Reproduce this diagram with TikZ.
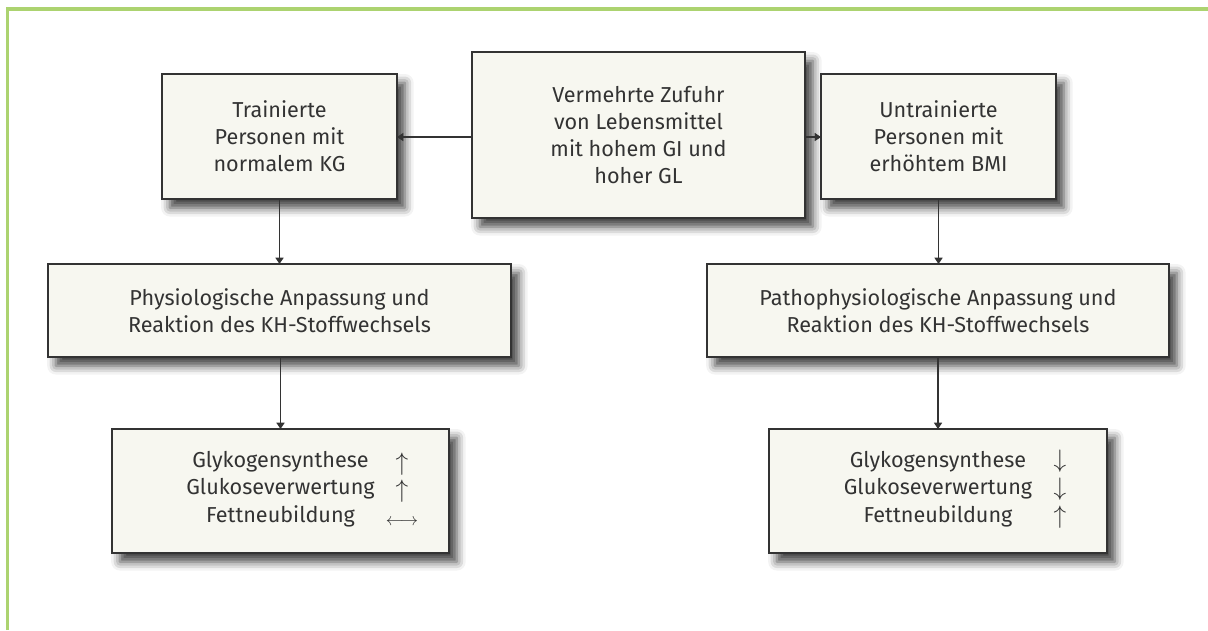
\documentclass[tikz,border=0pt]{standalone}
\usepackage{fontspec}
\setmainfont{Fira Sans}
\usetikzlibrary{arrows.meta,shadows.blur}
\definecolor{rahmen}{RGB}{172,211,112}
\definecolor{creme}{RGB}{247,247,240}
\definecolor{tinte}{RGB}{51,51,51}
\begin{document}
\begin{tikzpicture}[x=0.02cm, y=-0.02cm,
    kasten/.style={draw=tinte, line width=0.9pt, fill=creme,
        text=tinte, align=center, inner sep=0pt, outer sep=0pt,
        font=\fontsize{12.3}{15.4}\selectfont,
        blur shadow={shadow xshift=4.5pt, shadow yshift=-5pt,
            shadow blur radius=5pt, shadow opacity=75}},
    zeilen/.style={text=tinte, align=center, inner sep=0pt,
        font=\fontsize{12.3}{15.8}\selectfont},
    tendenz/.style={zeilen, font=\fontsize{15.5}{15.8}\selectfont},
    pfeil/.style={draw=tinte, line width=0.7pt,
        -{Triangle[width=4.6pt,length=3.6pt]}}
    ]
    \useasboundingbox (0,0) rectangle (1208,630);
    \draw[rahmen, line width=2pt] (7.3,630) -- (7.3,9) -- (1208,9);

    \node[kasten, minimum width=4.7cm, minimum height=2.5cm] (train) at (279.5,136.5)
        {Trainierte\\ Personen mit\\ normalem KG};
    \node[kasten, minimum width=6.66cm, minimum height=3.32cm] (zufuhr) at (638.5,135)
        {Vermehrte Zufuhr\\ von Lebensmittel\\ mit hohem GI und\\ hoher GL};
    \node[kasten, minimum width=4.7cm, minimum height=2.5cm] (untrain) at (938.5,136.5)
        {Untrainierte\\ Personen mit\\ erhöhtem BMI};
    \node[kasten, minimum width=9.26cm, minimum height=1.86cm] (physio) at (279.5,310.5)
        {Physiologische Anpassung und\\ Reaktion des KH-Stoffwechsels};
    \node[kasten, minimum width=9.24cm, minimum height=1.86cm] (patho) at (938,310.5)
        {Pathophysiologische Anpassung und\\ Reaktion des KH-Stoffwechsels};
    \node[kasten, minimum width=6.74cm, minimum height=2.48cm] (glykoL) at (280.5,491) {};
    \node[kasten, minimum width=6.76cm, minimum height=2.48cm] (glykoR) at (938,491) {};

    \node[zeilen] (effektL) at (280.5,489)
        {Glykogensynthese\\ Glukoseverwertung\\ Fettneubildung};
    \node[tendenz] (tendenzL) at (402,489)
        {$\uparrow$\\ $\uparrow$\\ {\fontsize{10}{10}\selectfont$\longleftrightarrow$}};
    \node[zeilen] (effektR) at (938,489)
        {Glykogensynthese\\ Glukoseverwertung\\ Fettneubildung};
    \node[tendenz] (tendenzR) at (1060,489)
        {$\downarrow$\\ $\downarrow$\\ $\uparrow$};

    \draw[pfeil] (zufuhr.west |- 0,137) -- (train.east |- 0,137);
    \draw[pfeil] (zufuhr.east |- 0,137) -- (untrain.west |- 0,137);
    \draw[pfeil] (train.south) -- (physio.north);
    \draw[pfeil] (untrain.south) -- (untrain.south |- patho.north);
    \draw[pfeil] (physio.south -| glykoL.north) -- (glykoL.north);
    \draw[pfeil] (patho.south) -- (glykoR.north);
\end{tikzpicture}
\end{document}
